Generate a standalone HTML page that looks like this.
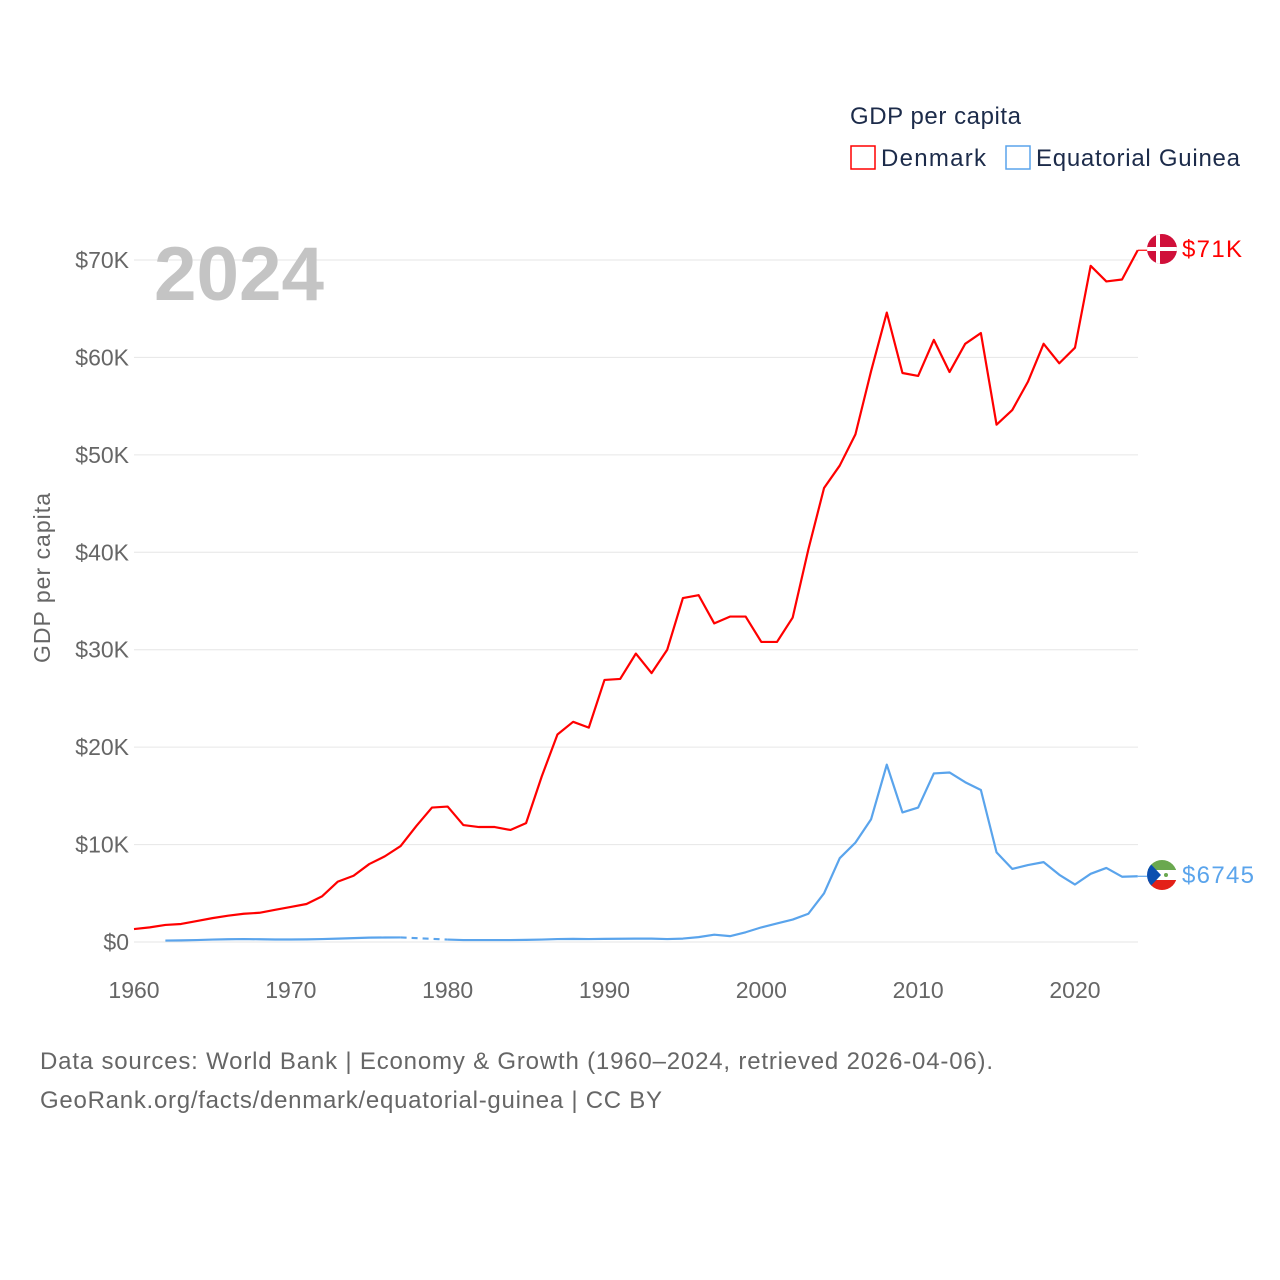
<!DOCTYPE html>
<html><head><meta charset="utf-8"><style>
body{margin:0;background:#fff;}
svg{display:block;font-family:"Liberation Sans","DejaVu Sans",sans-serif;}
</style></head><body>
<svg id="chart" width="1280" height="1280" viewBox="0 0 1280 1280">
<defs>
<clipPath id="c1"><circle cx="1162" cy="249" r="15"/></clipPath>
<clipPath id="c2"><circle cx="1162" cy="875" r="15"/></clipPath>
</defs>
<g id="grid"></g>
<g id="yticks"></g>
<g id="xticks"></g>
<text x="154" y="300" font-size="76" font-weight="bold" fill="#c4c4c4" textLength="170" lengthAdjust="spacingAndGlyphs">2024</text>
<text transform="translate(50,578) rotate(-90)" font-size="23" fill="#666" text-anchor="middle" textLength="170">GDP per capita</text>
<g id="series"></g>
<g>
<text x="850" y="124" font-size="24" fill="#1c2b4a" textLength="171">GDP per capita</text>
<g><rect x="851" y="146" width="24" height="23" fill="none" stroke="#f00" stroke-width="1.5"/><text x="881" y="166" font-size="24" fill="#1c2b4a" textLength="105">Denmark</text></g>
<g><rect x="1006" y="146" width="24" height="23" fill="none" stroke="#5aa4ec" stroke-width="1.5"/><text x="1036" y="166" font-size="24" fill="#1c2b4a" textLength="204">Equatorial Guinea</text></g>
</g>
<g clip-path="url(#c1)">
<rect x="1147" y="234" width="30" height="30" fill="#d0103a"/><rect x="1156" y="234" width="4" height="30" fill="#fff"/><rect x="1147" y="247" width="30" height="4" fill="#fff"/></g>
<g clip-path="url(#c2)">
<rect x="1147" y="860" width="30" height="10" fill="#6aa84f"/><rect x="1147" y="870" width="30" height="10" fill="#fff"/><rect x="1147" y="880" width="30" height="10" fill="#e32118"/><polygon points="1147,860 1161,875 1147,890" fill="#0b4fb0"/><circle cx="1166" cy="875" r="2" fill="#6aa84f"/></g>
<text x="1182" y="257" font-size="24" fill="#f00" textLength="60">$71K</text>
<text x="1182" y="883" font-size="24" fill="#5aa4ec" textLength="72">$6745</text>
<text x="40" y="1069" font-size="24" fill="#666" textLength="953">Data sources: World Bank | Economy &amp; Growth (1960–2024, retrieved 2026-04-06).</text>
<text x="40" y="1108" font-size="24" fill="#666" textLength="622">GeoRank.org/facts/denmark/equatorial-guinea | CC BY</text>
</svg>
<script>
const years=[];for(let y=1960;y<=2024;y++)years.push(y);
const denmark=[1.33,1.5,1.75,1.85,2.15,2.45,2.7,2.9,3.0,3.3,3.6,3.9,4.7,6.2,6.8,8.0,8.8,9.85,11.9,13.8,13.9,12.0,11.8,11.8,11.5,12.2,17.0,21.3,22.6,22.0,26.9,27.0,29.6,27.6,30.0,35.3,35.6,32.7,33.4,33.4,30.8,30.8,33.3,40.3,46.6,48.9,52.1,58.6,64.6,58.4,58.1,61.8,58.5,61.4,62.5,53.1,54.6,57.5,61.4,59.4,61.0,69.4,67.8,68.0,71.0];
const eqGuinea=[null,null,0.15,0.17,0.2,0.25,0.28,0.3,0.28,0.26,0.26,0.27,0.3,0.35,0.4,0.45,0.46,0.47,null,null,0.25,0.2,0.2,0.2,0.2,0.22,0.25,0.3,0.32,0.3,0.32,0.33,0.35,0.35,0.3,0.35,0.5,0.75,0.6,1.0,1.5,1.9,2.3,2.9,5.0,8.6,10.2,12.6,18.2,13.3,13.8,17.3,17.4,16.4,15.6,9.2,7.5,7.9,8.2,6.9,5.9,7.0,7.6,6.7,6.745];
const yTicks=[0,10,20,30,40,50,60,70];
const xTicks=[1960,1970,1980,1990,2000,2010,2020];
const NS="http://www.w3.org/2000/svg";
const X=y=>134+(y-1960)*15.683, Y=v=>942-v*9.743;
function mk(t,a,p){const e=document.createElementNS(NS,t);for(const k in a)e.setAttribute(k,a[k]);p.appendChild(e);return e;}
const grid=document.getElementById('grid'),yt=document.getElementById('yticks'),xt=document.getElementById('xticks'),ser=document.getElementById('series');
yTicks.forEach(v=>{
 const l=mk('line',{x1:134,x2:1138,y1:Y(v),y2:Y(v),stroke:'#e6e6e6','stroke-width':1},grid);
 
 
 const t=mk('text',{x:129,y:Y(v)+8,'font-size':23,fill:'#666','text-anchor':'end'},yt);
 t.textContent='$'+(v?v+'K':'0');
 
 
});
xTicks.forEach(v=>{
 const t=mk('text',{x:X(v),y:998,'font-size':23,fill:'#666','text-anchor':'middle'},xt);
 t.textContent=v;
 
 
});
function draw(vals,color,name){
 const g=mk('g',{},ser);
 
 
 let segs=[],cur=[],gaps=[],last=null;
 vals.forEach((v,i)=>{
  if(v==null){if(cur.length){segs.push(cur);cur=[];}return;}
  const p=[X(years[i]),Y(v)];
  if(!cur.length&&last&&last.i<i-1)gaps.push([last.p,p]);
  cur.push(p);last={i,p};
 });
 if(cur.length)segs.push(cur);
 segs.forEach(s=>{const e=mk('polyline',{points:s.map(p=>p.join(',')).join(' '),fill:'none',stroke:color,'stroke-width':2.2,'stroke-linejoin':'round'},g);
  
  });
 gaps.forEach(([a,b])=>{const e=mk('line',{x1:a[0],y1:a[1],x2:b[0],y2:b[1],stroke:color,'stroke-width':2.2,'stroke-dasharray':'6,5'},g);
  
  });
 const lv=vals[vals.length-1];
 const c=mk('line',{x1:X(2024),x2:1150,y1:Y(lv),y2:Y(lv),stroke:color,'stroke-width':1.2},g);
 
 
}
draw(denmark,'#f00','denmark');
draw(eqGuinea,'#5aa4ec','equatorial-guinea');
</script>
</body></html>
